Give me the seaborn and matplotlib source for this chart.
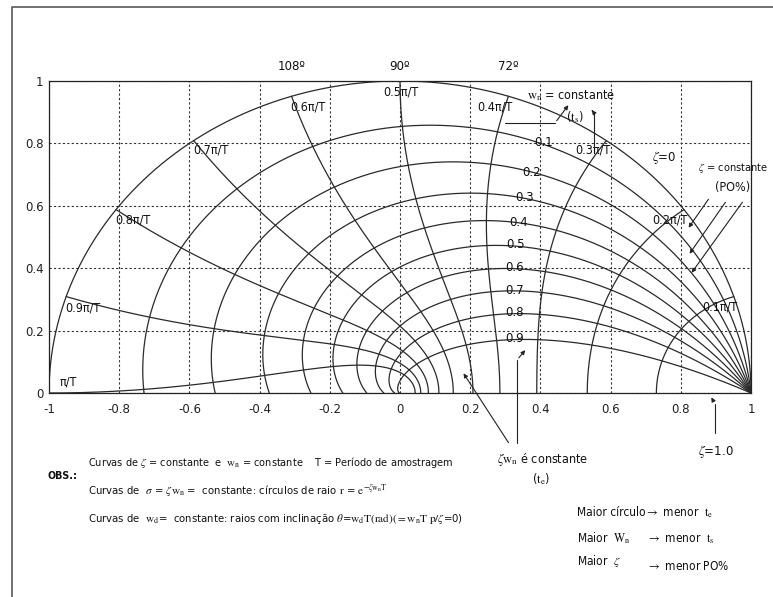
import numpy as np
import pandas as pd
import matplotlib
matplotlib.use("Agg")
import matplotlib.pyplot as plt
from matplotlib.lines import Line2D
from matplotlib import font_manager
import seaborn as sns

# ---- data ----
zeta_values = [0.1, 0.2, 0.3, 0.4, 0.5, 0.6, 0.7, 0.8, 0.9]
wn_factors = [0.1, 0.2, 0.3, 0.4, 0.5, 0.6, 0.7, 0.8, 0.9, 1.0]   # x pi/T
wn_labels = ["0.1π/T", "0.2π/T", "0.3π/T", "0.4π/T", "0.5π/T",
             "0.6π/T", "0.7π/T", "0.8π/T", "0.9π/T", "π/T"]
angle_labels = ["108º", "90º", "72º"]
angle_values = [108, 90, 72]
x_ticks = [-1, -0.8, -0.6, -0.4, -0.2, 0, 0.2, 0.4, 0.6, 0.8, 1]
x_tick_labels = ["-1", "-0.8", "-0.6", "-0.4", "-0.2", "0", "0.2", "0.4", "0.6", "0.8", "1"]
y_ticks = [0, 0.2, 0.4, 0.6, 0.8, 1]
y_tick_labels = ["0", "0.2", "0.4", "0.6", "0.8", "1"]

W, H = 773, 597
sns.set_style("white")

# pick a narrow font if one exists
fl = font_manager.fontManager.ttflist
names = {f.name for f in fl}
STRETCH = "normal"
if "Liberation Sans Narrow" in names:
    NARROW = ["Liberation Sans Narrow", "DejaVu Sans"]
elif any(f.name == "DejaVu Sans" and str(f.stretch) in ("condensed", "semi-condensed") for f in fl):
    NARROW = ["DejaVu Sans"]
    STRETCH = "condensed"
else:
    NARROW = ["Liberation Sans", "DejaVu Sans"]
plt.rcParams["font.family"] = NARROW
plt.rcParams["font.stretch"] = STRETCH
plt.rcParams["mathtext.fontset"] = "stix"
SCALE = 1.0 if NARROW[0] == "Liberation Sans Narrow" else 0.9

# ---- build grid curves ----
rows = []
th = np.linspace(0, np.pi, 500)
for xx, yy in zip(np.cos(th), np.sin(th)):
    rows.append(("zeta0", xx, yy))
for z in zeta_values:
    r = np.exp(-z * th / np.sqrt(1 - z * z))
    for xx, yy in zip(r * np.cos(th), r * np.sin(th)):
        rows.append((f"zeta{z}", xx, yy))
zz = np.linspace(0, 1, 500)
for k in wn_factors:
    w = k * np.pi
    r = np.exp(-zz * w)
    a = w * np.sqrt(1 - zz ** 2)
    for xx, yy in zip(r * np.cos(a), r * np.sin(a)):
        rows.append((f"wn{k}", xx, yy))
df = pd.DataFrame(rows, columns=["curve", "x", "y"])

fig = plt.figure(figsize=(W / 100, H / 100), dpi=100)
ax = fig.add_axes([49 / W, 1 - 393 / H, (751 - 49) / W, (393 - 81) / H])

sns.lineplot(data=df, x="x", y="y", units="curve", estimator=None, sort=False,
             color="#2a2a2a", lw=0.9, legend=False, ax=ax)

ax.set_xlim(-1, 1)
ax.set_ylim(0, 1)
ax.set_xticks(x_ticks)
ax.set_xticklabels(x_tick_labels)
ax.set_yticks(y_ticks)
ax.set_yticklabels(y_tick_labels)
ax.set_xlabel("")
ax.set_ylabel("")
ax.tick_params(length=0, labelsize=10.5 * SCALE, colors="#222")
ax.tick_params(axis="x", pad=7)
ax.tick_params(axis="y", pad=4)
ax.grid(True, color="#333", lw=0.8, linestyle=(0, (2, 2)))
for s in ax.spines.values():
    s.set_visible(True)
    s.set_color("#222")
    s.set_linewidth(0.9)


def F(px, py):
    return (px / W, 1 - py / H)


def ftext(px, py, s, size=9, ha="left", va="center", **kw):
    fig.text(px / W, 1 - py / H, s, fontsize=size * SCALE, ha=ha, va=va,
             color="#111", family=NARROW, stretch=STRETCH, **kw)


def parrow(pts):
    if len(pts) > 2:
        xs = [p[0] / W for p in pts[:-1]]
        ys = [1 - p[1] / H for p in pts[:-1]]
        fig.add_artist(Line2D(xs, ys, transform=fig.transFigure, color="#222", lw=0.8))
    fig.add_artist(matplotlib.patches.FancyArrowPatch(
        F(*pts[-2]), F(*pts[-1]), transform=fig.transFigure,
        arrowstyle="-|>", mutation_scale=6, lw=0.8, color="#222"))


# angle labels above the axes
for lab, ang in zip(angle_labels, angle_values):
    ax.text(np.cos(np.deg2rad(ang)), 1.0 + 8 / 313, lab, ha="center", va="bottom",
            fontsize=10.5 * SCALE, color="#111")

# wn labels (left edge, center y in pixels)
wn_label_pos = [(702, 307), (652, 220), (575, 150), (477, 107), (383, 92),
                (290, 107), (193, 150), (115, 220), (65, 308), (60, 382)]
for lab, (px, py) in zip(wn_labels, wn_label_pos):
    ftext(px, py, lab, size=10)

# zeta labels
zeta_label_pos = [(544, 143), (532, 172), (525, 197), (519, 223), (516, 245),
                  (515, 267), (515, 290), (515, 312), (515, 338)]
for z, (px, py) in zip(zeta_values, zeta_label_pos):
    ftext(px, py, f"{z:.1f}", size=10.5, ha="center")

# annotations
ftext(527, 96, r"$\mathrm{w_n}$ = constante", size=10)
ftext(566, 117, r"($\mathrm{t_s}$)", size=10)
parrow([(505, 123), (555, 123), (570, 103)])
parrow([(594, 152), (594, 113), (590, 108)])

ftext(652, 157, r"$\zeta$=0", size=10.5)
ftext(698, 168, r"$\zeta$ = constante", size=8.8)
ftext(715, 187, "(PO%)", size=10)
parrow([(710, 197), (687, 230)])
parrow([(727, 200), (688, 256)])
parrow([(744, 200), (690, 275)])

parrow([(510, 445), (462, 371)])
parrow([(517, 443), (517, 360), (527, 348)])
ftext(497, 459, r"$\zeta\mathrm{w_n}$ é constante", size=10)
ftext(532, 479, r"($\mathrm{t_e}$)", size=10)

parrow([(715, 433), (715, 404), (710, 395)])
ftext(698, 451, r"$\zeta$=1.0", size=10.5)

# OBS block
ftext(48, 476, "OBS.:", size=8.5, weight="bold")
ftext(88, 463, r"Curvas de $\zeta$ = constante  e  $\mathrm{w_n}$ = constante    T = Período de amostragem", size=8.7)
ftext(88, 491, r"Curvas de  $\sigma$ = $\zeta\mathrm{w_n}$ =  constante: círculos de raio $\mathrm{r}$ = $\mathrm{e}^{-\zeta \mathrm{w_n T}}$", size=9)
ftext(88, 519, r"Curvas de  $\mathrm{w_d}$=  constante: raios com inclinação $\theta$=$\mathrm{w_d T (rad) (= w_n T\ p/}\zeta$=0)", size=9)

# right block
ftext(577, 513, "Maior círculo", size=9.5)
ftext(645, 513, r"$\rightarrow$ menor  $\mathrm{t_e}$", size=9.5)
ftext(577, 538, r"Maior  $\mathrm{W_n}$", size=9.5)
ftext(647, 539, r"$\rightarrow$ menor  $\mathrm{t_s}$", size=9.5)
ftext(577, 561, r"Maior  $\zeta$", size=9.5)
ftext(647, 566, r"$\rightarrow$ menor PO%", size=9.5)

# outer frame of the source page
fig.add_artist(Line2D([12 / W, 12 / W, 1.0], [0.0, 1 - 7 / H, 1 - 7 / H],
                      transform=fig.transFigure, color="#666", lw=1.3))

fig.savefig("out.png", dpi=100)
